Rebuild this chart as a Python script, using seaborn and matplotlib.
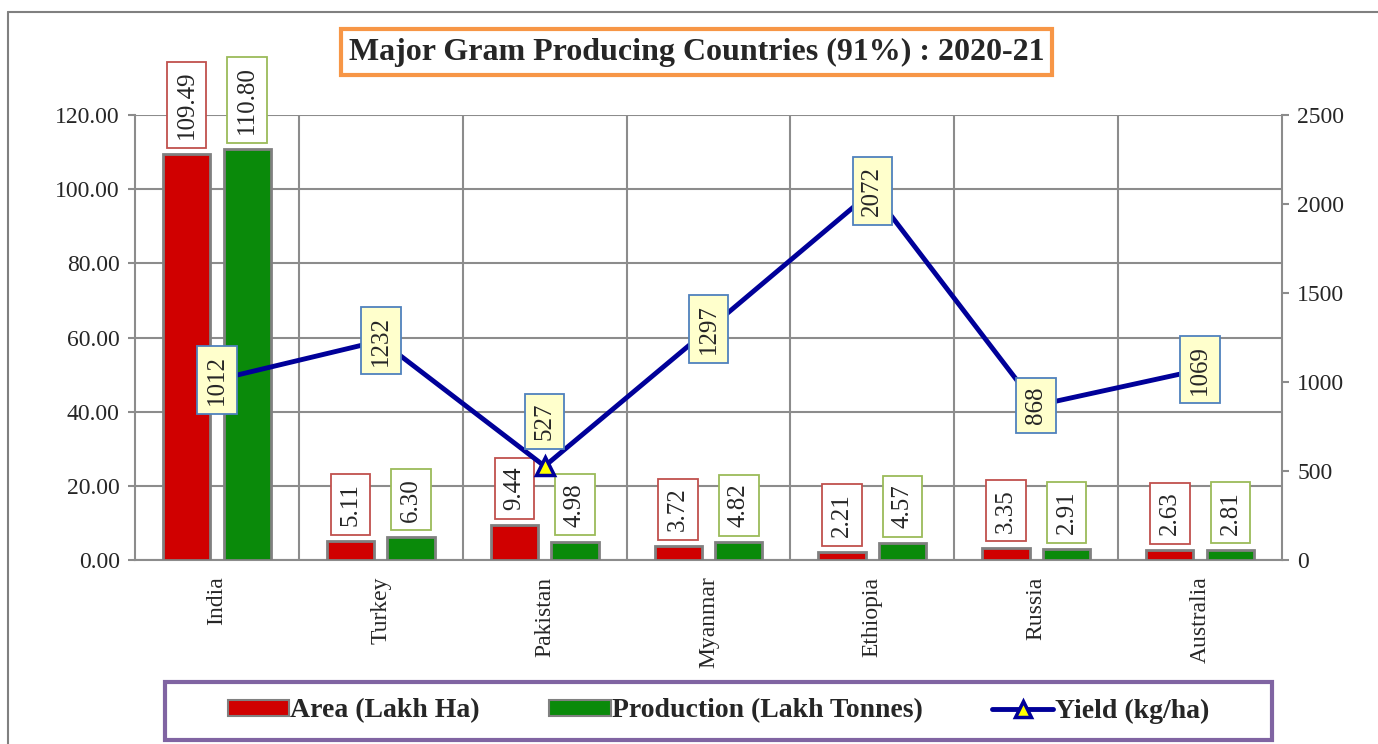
import matplotlib
matplotlib.use("Agg")
import matplotlib.pyplot as plt
import seaborn as sns
import pandas as pd
import numpy as np
from matplotlib.lines import Line2D
from matplotlib.patches import Patch, Rectangle

# Data
countries = ["India", "Turkey", "Pakistan", "Myanmar", "Ethiopia", "Russia", "Australia"]
area = [109.49, 5.11, 9.44, 3.72, 2.21, 3.35, 2.63]
production = [110.80, 6.30, 4.98, 4.82, 4.57, 2.91, 2.81]
yield_kg = [1012, 1232, 527, 1297, 2072, 868, 1069]

area_name = "Area (Lakh Ha)"
prod_name = "Production (Lakh Tonnes)"
yield_name = "Yield (kg/ha)"

sns.set_style("white")
plt.rcParams['font.family'] = ['Liberation Serif', 'DejaVu Serif']

long_df = pd.DataFrame({
    "Country": countries * 2,
    "Value": area + production,
    "Series": [area_name] * len(countries) + [prod_name] * len(countries),
})

red = "#D00000"
green = "#0A8A0A"
navy = "#000099"
grid_c = "#8C8C8C"

fig = plt.figure(figsize=(13.78, 7.44), dpi=100)
ax = fig.add_axes([135 / 1378, 1 - 560 / 744, (1282 - 135) / 1378, (560 - 115) / 744])

sns.barplot(data=long_df, x="Country", y="Value", hue="Series",
            palette=[red, green], saturation=1, width=0.74, gap=0.22,
            edgecolor="#808080", linewidth=2, ax=ax, legend=False, zorder=3)

ax.set_ylim(0, 120)
ax.set_xlim(-0.5, len(countries) - 0.5)
ax.set_yticks(np.arange(0, 121, 20))
ax.set_yticklabels([f"{v:.2f}" for v in np.arange(0, 121, 20)], fontsize=17)
ax.set_xticks(range(len(countries)))
ax.set_xticklabels(countries, rotation=90, fontsize=17)
ax.tick_params(axis="x", length=0, pad=12)
ax.tick_params(axis="y", length=5, color=grid_c, width=1.5, pad=6, left=True)
ax.set_xlabel("")
ax.set_ylabel("")
ax.yaxis.grid(True, color=grid_c, linewidth=1.5, zorder=0)
for xb in np.arange(0.5, len(countries) - 0.5, 1):
    ax.axvline(xb, color=grid_c, linewidth=1.5, zorder=0)
for s in ["top", "right"]:
    ax.spines[s].set_visible(False)
ax.spines["left"].set_color(grid_c)
ax.spines["bottom"].set_color(grid_c)
ax.spines["left"].set_linewidth(1.5)
ax.spines["bottom"].set_linewidth(1.5)

# bar labels
bar_colors = {area_name: "#C0504D", prod_name: "#9BBB59"}
for cont, name in zip(ax.containers, [area_name, prod_name]):
    for rect, val in zip(cont, area if name == area_name else production):
        xc = rect.get_x() + rect.get_width() / 2
        ax.annotate(f"{val:.2f}", xy=(xc, rect.get_height()), xytext=(0, 15),
                    textcoords="offset pixels", rotation=90, ha="center", va="bottom",
                    fontsize=18, zorder=6,
                    bbox=dict(boxstyle="square,pad=0.35", fc="white",
                              ec=bar_colors[name], lw=1.3))

# yield line on secondary axis
ax2 = ax.twinx()
sns.pointplot(x=countries, y=yield_kg, color=navy, markers="^", linewidth=3.5,
              markersize=13, markerfacecolor="yellow", markeredgecolor=navy,
              markeredgewidth=2.5, ax=ax2, zorder=4)
ax2.set_ylim(0, 2500)
ax2.set_xlim(-0.5, len(countries) - 0.5)
ax2.set_yticks(np.arange(0, 2501, 500))
ax2.set_yticklabels([str(v) for v in range(0, 2501, 500)], fontsize=17)
ax2.tick_params(axis="y", length=5, color=grid_c, width=1.5, pad=6)
ax2.set_ylabel("")
for s in ["top", "left", "bottom"]:
    ax2.spines[s].set_visible(False)
ax2.spines["right"].set_color(grid_c)
ax2.spines["right"].set_linewidth(1.5)

for i, (c, v) in enumerate(zip(countries, yield_kg)):
    if c == "Pakistan":
        ax2.annotate(str(v), xy=(i, v), xytext=(0, 26), textcoords="offset pixels",
                     rotation=90, ha="center", va="bottom", fontsize=18, zorder=7,
                     bbox=dict(boxstyle="square,pad=0.35", fc="#FFFFCC", ec="#4F81BD", lw=1.3))
    else:
        ax2.annotate(str(v), xy=(i, v), xytext=(0, 0), textcoords="offset pixels",
                     rotation=90, ha="center", va="center", fontsize=18, zorder=7,
                     bbox=dict(boxstyle="square,pad=0.35", fc="#FFFFCC", ec="#4F81BD", lw=1.3))

# title
fig.text(0.5 * (340 + 1053) / 1378, 1 - 52 / 744,
         "Major Gram Producing Countries (91%) : 2020-21",
         ha="center", va="center", fontsize=23, fontweight="bold",
         bbox=dict(boxstyle="square,pad=0.25", fc="white", ec="#F79646", lw=3))

# outer border
fig.add_artist(Line2D([8 / 1378, 8 / 1378], [0, 1 - 12 / 744], color="#808080", lw=1.5))
fig.add_artist(Line2D([8 / 1378, 1], [1 - 12 / 744, 1 - 12 / 744], color="#808080", lw=1.5))

# legend box
fig.add_artist(Rectangle((165 / 1378, 1 - 740 / 744), (1272 - 165) / 1378, 58 / 744,
                         transform=fig.transFigure, fc="white", ec="#8064A2", lw=3))

handles = [
    Patch(facecolor=red, edgecolor="#808080", linewidth=1.5),
    Patch(facecolor=green, edgecolor="#808080", linewidth=1.5),
    Line2D([0], [0], color=navy, lw=3.5, marker="^", markersize=11,
           markerfacecolor="yellow", markeredgecolor=navy, markeredgewidth=2.5),
]
leg = fig.legend(handles, [area_name, prod_name, yield_name], loc="center",
                 bbox_to_anchor=((225 + 1212) / 2 / 1378, 1 - 711 / 744),
                 ncol=3, frameon=False, prop={"weight": "bold", "size": 20},
                 handlelength=2.2, handleheight=0.5, handletextpad=0.05, columnspacing=2.5,
                 borderpad=0, borderaxespad=0)

fig.savefig("out.png", dpi=100)
